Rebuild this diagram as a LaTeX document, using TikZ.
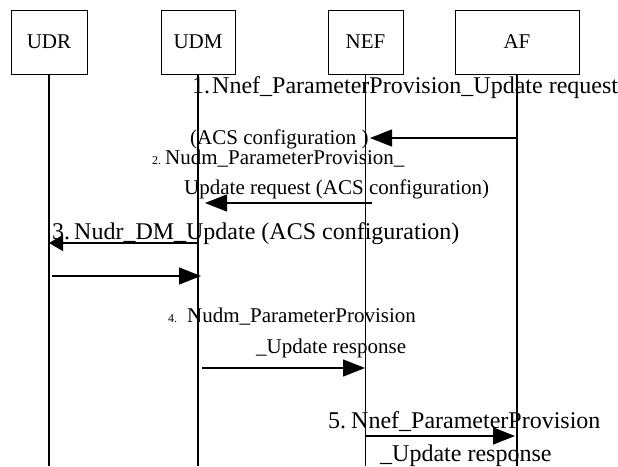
\documentclass[tikz,border=0pt]{standalone}
\usepackage{fontspec}
\setmainfont{Liberation Serif}
\usetikzlibrary{arrows.meta}
\tikzset{
  entity/.style={draw, line width=0.9pt, minimum height=64pt, inner sep=0pt, font=\fontsize{21}{24}\selectfont},
  lifeline/.style={line width=1.2pt},
  msg/.style={line width=1.4pt, -{Triangle[length=22pt,width=17pt]}},
  lbl/.style={anchor=base west, inner sep=0pt, font=\fontsize{21}{24}\selectfont},
  biglbl/.style={lbl, font=\fontsize{24}{28}\selectfont},
}
\newcommand{\stepno}[1]{{\fontsize{12}{14}\selectfont #1}}
\begin{document}
\begin{tikzpicture}[x=1pt,y=-1pt]
  \useasboundingbox (0,0) rectangle (618,466);
  % entities
  \node[entity, minimum width=76pt] (udr) at (49,42) {UDR};
  \node[entity, minimum width=74pt] (udm) at (198,42) {UDM};
  \node[entity, minimum width=75pt] (nef) at (365.5,42) {NEF};
  \node[entity, minimum width=124pt] (af) at (517,42) {AF};
  \foreach \n in {udr,udm,nef,af}{
    \path (\n.south) ++(0,392) coordinate (\n-end);
    \draw[lifeline] (\n.south) -- (\n-end);
  }
  % message end points
  \coordinate (m1s) at (517,138);  \coordinate (m1e) at (370,138);
  \coordinate (m2s) at (372,203);  \coordinate (m2e) at (205,203);
  \coordinate (m3s) at (198,243);  \coordinate (m3e) at (49,243);
  \coordinate (m3rs) at (52,276);  \coordinate (m3re) at (201,276);
  \coordinate (m4s) at (202,368);  \coordinate (m4e) at (365,368);
  \coordinate (m5s) at (366,436);  \coordinate (m5e) at (515,436);
  % messages
  \draw[msg] (m1s) -- (m1e);
  \draw[msg] (m2s) -- (m2e);
  \draw[msg, -{Triangle[length=14pt,width=16pt]}] (m3s) -- (m3e);
  \draw[msg] (m3rs) -- (m3re);
  \draw[msg] (m4s) -- (m4e);
  \draw[msg] (m5s) -- (m5e);
  % labels
  \node[biglbl] (l1a) at (192,93) {1.\hspace{2pt}Nnef\_ParameterProvision\_Update request};
  \node[lbl] (l1b) at (190,144) {(ACS configuration )};
  \node[lbl] (l2a) at (152,164) {\stepno{2. }Nudm\_ParameterProvision\_};
  \node[lbl] (l2b) at (184,194) {Update request (ACS configuration)};
  \node[biglbl] (l3) at (52,239) {3.\hspace{4pt}Nudr\_DM\_Update (ACS configuration)};
  \node[lbl] (l4a) at (168,322) {\stepno{4.}\hspace{10pt}Nudm\_ParameterProvision};
  \node[lbl] (l4b) at (256,353) {\_Update response};
  \node[biglbl] (l5a) at (328,428) {5.\hspace{5pt}Nnef\_ParameterProvision};
  \node[biglbl] (l5b) at (380,461) {\_Update response};
\end{tikzpicture}
\end{document}
